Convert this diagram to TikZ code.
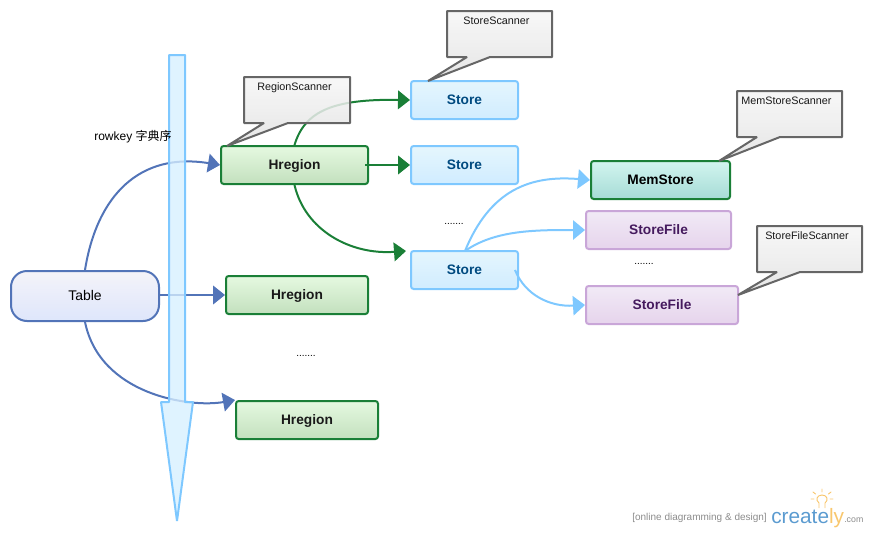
\documentclass[tikz,border=0pt]{standalone}
\usepackage{fontspec}
\setmainfont{Liberation Sans}
\newfontfamily\cjkfont{Noto Sans CJK SC}
\usetikzlibrary{arrows.meta}
\definecolor{bluelink}{HTML}{5274B8}
\definecolor{greenlink}{HTML}{1A7F37}
\definecolor{skylink}{HTML}{7EC8FF}
\definecolor{calloutline}{HTML}{666666}
\definecolor{E5F9E0}{HTML}{E5F9E0}\definecolor{C3E0BE}{HTML}{C3E0BE}
\definecolor{E5F6FD}{HTML}{E5F6FD}\definecolor{D0ECFF}{HTML}{D0ECFF}
\definecolor{D2F5EF}{HTML}{D2F5EF}\definecolor{A6DBD6}{HTML}{A6DBD6}
\definecolor{F1EAF6}{HTML}{F1EAF6}\definecolor{E6D4EC}{HTML}{E6D4EC}
\definecolor{F4F3F9}{HTML}{F4F3F9}\definecolor{DEE6FB}{HTML}{DEE6FB}
\definecolor{F6F6F6}{HTML}{F6F6F6}\definecolor{E1E1E1}{HTML}{E1E1E1}
\definecolor{StoreInk}{HTML}{004A80}\definecolor{FileInk}{HTML}{451A5E}
\definecolor{FileLine}{HTML}{C9A6D8}\definecolor{SkyFill}{HTML}{D6EFFF}
\definecolor{LogoBlue}{HTML}{5B9BD0}\definecolor{LogoOrange}{HTML}{F8C76E}
\tikzset{
  x=0.75pt,y=-0.75pt,
  boxbase/.style={rectangle,rounded corners=2pt,line width=1.5pt,inner sep=0pt,text height=7.4pt,text depth=0pt,font=\bfseries\fontsize{10.3pt}{12pt}\selectfont},
  hregionbox/.style={boxbase,draw=greenlink,top color=E5F9E0,bottom color=C3E0BE,text=black!90},
  storebox/.style={boxbase,draw=skylink,top color=E5F6FD,bottom color=D0ECFF,text=StoreInk,minimum width=80.25pt,minimum height=28.5pt},
  memstorebox/.style={boxbase,draw=greenlink,top color=D2F5EF,bottom color=A6DBD6,text=black},
  storefilebox/.style={boxbase,draw=FileLine,top color=F1EAF6,bottom color=E6D4EC,text=FileInk},
  tablebox/.style={rectangle,rounded corners=12pt,line width=1.5pt,inner sep=0pt,text height=7.4pt,text depth=0pt,draw=bluelink,top color=F4F3F9,bottom color=DEE6FB,font=\fontsize{10.5pt}{12pt}\selectfont},
  bluearrow/.style={draw=bluelink,line width=1.5pt,-{Triangle[length=9pt,width=14pt,fill=bluelink]}},
  greenarrow/.style={draw=greenlink,line width=1.5pt,-{Triangle[length=9pt,width=14pt,fill=greenlink]}},
  skyarrow/.style={draw=skylink,line width=1.5pt,-{Triangle[length=9pt,width=14.5pt,fill=skylink]}},
  calloutshape/.style={draw=calloutline,line width=1.5pt,top color=F6F6F6,bottom color=E1E1E1,fill opacity=.85,line join=bevel},
  calloutlabel/.style={inner sep=0pt,font=\fontsize{8.1pt}{10pt}\selectfont,text=black!90},
  dotslabel/.style={inner sep=0pt,font=\fontsize{7.5pt}{9pt}\selectfont},
  keyarrow/.style={draw=skylink,line width=1.5pt,fill=SkyFill,fill opacity=.78,line join=bevel},
}
\begin{document}
\begin{tikzpicture}
\useasboundingbox (0,0) rectangle (870,532);
% nodes
\node[tablebox,minimum width=111pt,minimum height=37.5pt] (table) at (85,296) {Table};
\node[hregionbox,minimum width=110.25pt,minimum height=28.5pt] (h1) at (294.5,165) {Hregion};
\node[hregionbox,minimum width=106.5pt,minimum height=28.5pt] (h2) at (297,295) {Hregion};
\node[hregionbox,minimum width=106.5pt,minimum height=28.5pt] (h3) at (307,420) {Hregion};
\node[storebox] (s1) at (464.5,100) {Store};
\node[storebox] (s2) at (464.5,165) {Store};
\node[storebox] (s3) at (464.5,270) {Store};
\node[memstorebox,minimum width=104.25pt,minimum height=28.5pt] (mem) at (660.5,180) {MemStore};
\node[storefilebox,minimum width=108.75pt,minimum height=28.5pt] (f1) at (658.5,230) {StoreFile};
\node[storefilebox,minimum width=114pt,minimum height=28.5pt] (f2) at (662,305) {StoreFile};
% free ends
\coordinate (h1inner) at (365,165);
\coordinate (s3target) at (406,251);
\coordinate (s3inner) at (515,270);
\coordinate (s3top) at (465,251);
% connectors
\draw[bluearrow] (table.north) .. controls (97,195) and (140,152) .. (h1.west);
\draw[bluearrow] (table.east |- h2.west) -- (h2.west);
\draw[bluearrow] (table.south) .. controls (100,395) and (190,408) .. (h3.north west);
\draw[greenarrow] (h1.north) .. controls (305,110) and (335,99) .. (s1.west);
\draw[greenarrow] (h1inner) -- (s2.west);
\draw[greenarrow] (h1.south) .. controls (305,230) and (350,255) .. (s3target);
\draw[skyarrow] (s3top) .. controls (490,190) and (530,175) .. (mem.west);
\draw[skyarrow] (s3top) .. controls (495,230) and (535,230) .. (f1.west);
\draw[skyarrow] (s3inner) .. controls (525,295) and (550,307) .. (f2.west);
% key arrow
\path[keyarrow] (169,55) -- (185,55) -- (185,402) -- (193,402) -- (177,521) -- (161,402) -- (169,402) -- cycle;
% callouts
\coordinate (tipR) at (227,146);
\path[calloutshape] (244,77) -- (350,77) -- (350,123) -- (288,123) -- (tipR) -- (264,123) -- (244,123) -- cycle;
\node[calloutlabel] (lblR) at (294.5,87.5) {RegionScanner};
\coordinate (tipS) at (428,81);
\path[calloutshape] (447,11) -- (552,11) -- (552,57) -- (490,57) -- (tipS) -- (467,57) -- (447,57) -- cycle;
\node[calloutlabel] (lblS) at (496.5,21) {StoreScanner};
\coordinate (tipM) at (719,161);
\path[calloutshape] (737,91) -- (842,91) -- (842,137) -- (780,137) -- (tipM) -- (757,137) -- (737,137) -- cycle;
\node[calloutlabel] (lblM) at (786.5,101) {MemStoreScanner};
\coordinate (tipF) at (738,295);
\path[calloutshape] (757,226) -- (862,226) -- (862,272) -- (800,272) -- (tipF) -- (777,272) -- (757,272) -- cycle;
\node[calloutlabel] (lblF) at (807,236) {StoreFileScanner};
% texts
\node[inner sep=0pt,anchor=west,font=\fontsize{9pt}{11pt}\selectfont] (rk) at (94,136.5) {rowkey {\cjkfont 字典序}};
\node[dotslabel] (d1) at (454,224) {.......};
\node[dotslabel] (d2) at (644,264) {.......};
\node[dotslabel] (d3) at (306,356) {.......};
% logo
\node[inner sep=0pt,anchor=base west,text=black!45,font=\fontsize{7.5pt}{9pt}\selectfont] (tag) at (632,520) {[online diagramming \& design]};
\node[inner sep=0pt,anchor=base west,font=\fontsize{15.6pt}{18pt}\selectfont] (logo) at (771,523) {\textcolor{LogoBlue}{create}\textcolor{LogoOrange}{ly}};
\node[inner sep=0pt,anchor=base west,text=black!45,font=\fontsize{6.6pt}{9pt}\selectfont] (com) at (844,522) {.com};
\draw[LogoOrange,line width=.7pt] (819,508) -- (819,503) .. controls (815,500) and (817,495) .. (822,495) .. controls (827,495) and (829,500) .. (825,503) -- (825,508);
\draw[LogoOrange,line width=.7pt,line cap=round] (822,489) -- (822,492) (813,492) -- (815.5,494) (831,492) -- (828.5,494) (811,499) -- (814,499) (833,499) -- (830,499);
\end{tikzpicture}
\end{document}
